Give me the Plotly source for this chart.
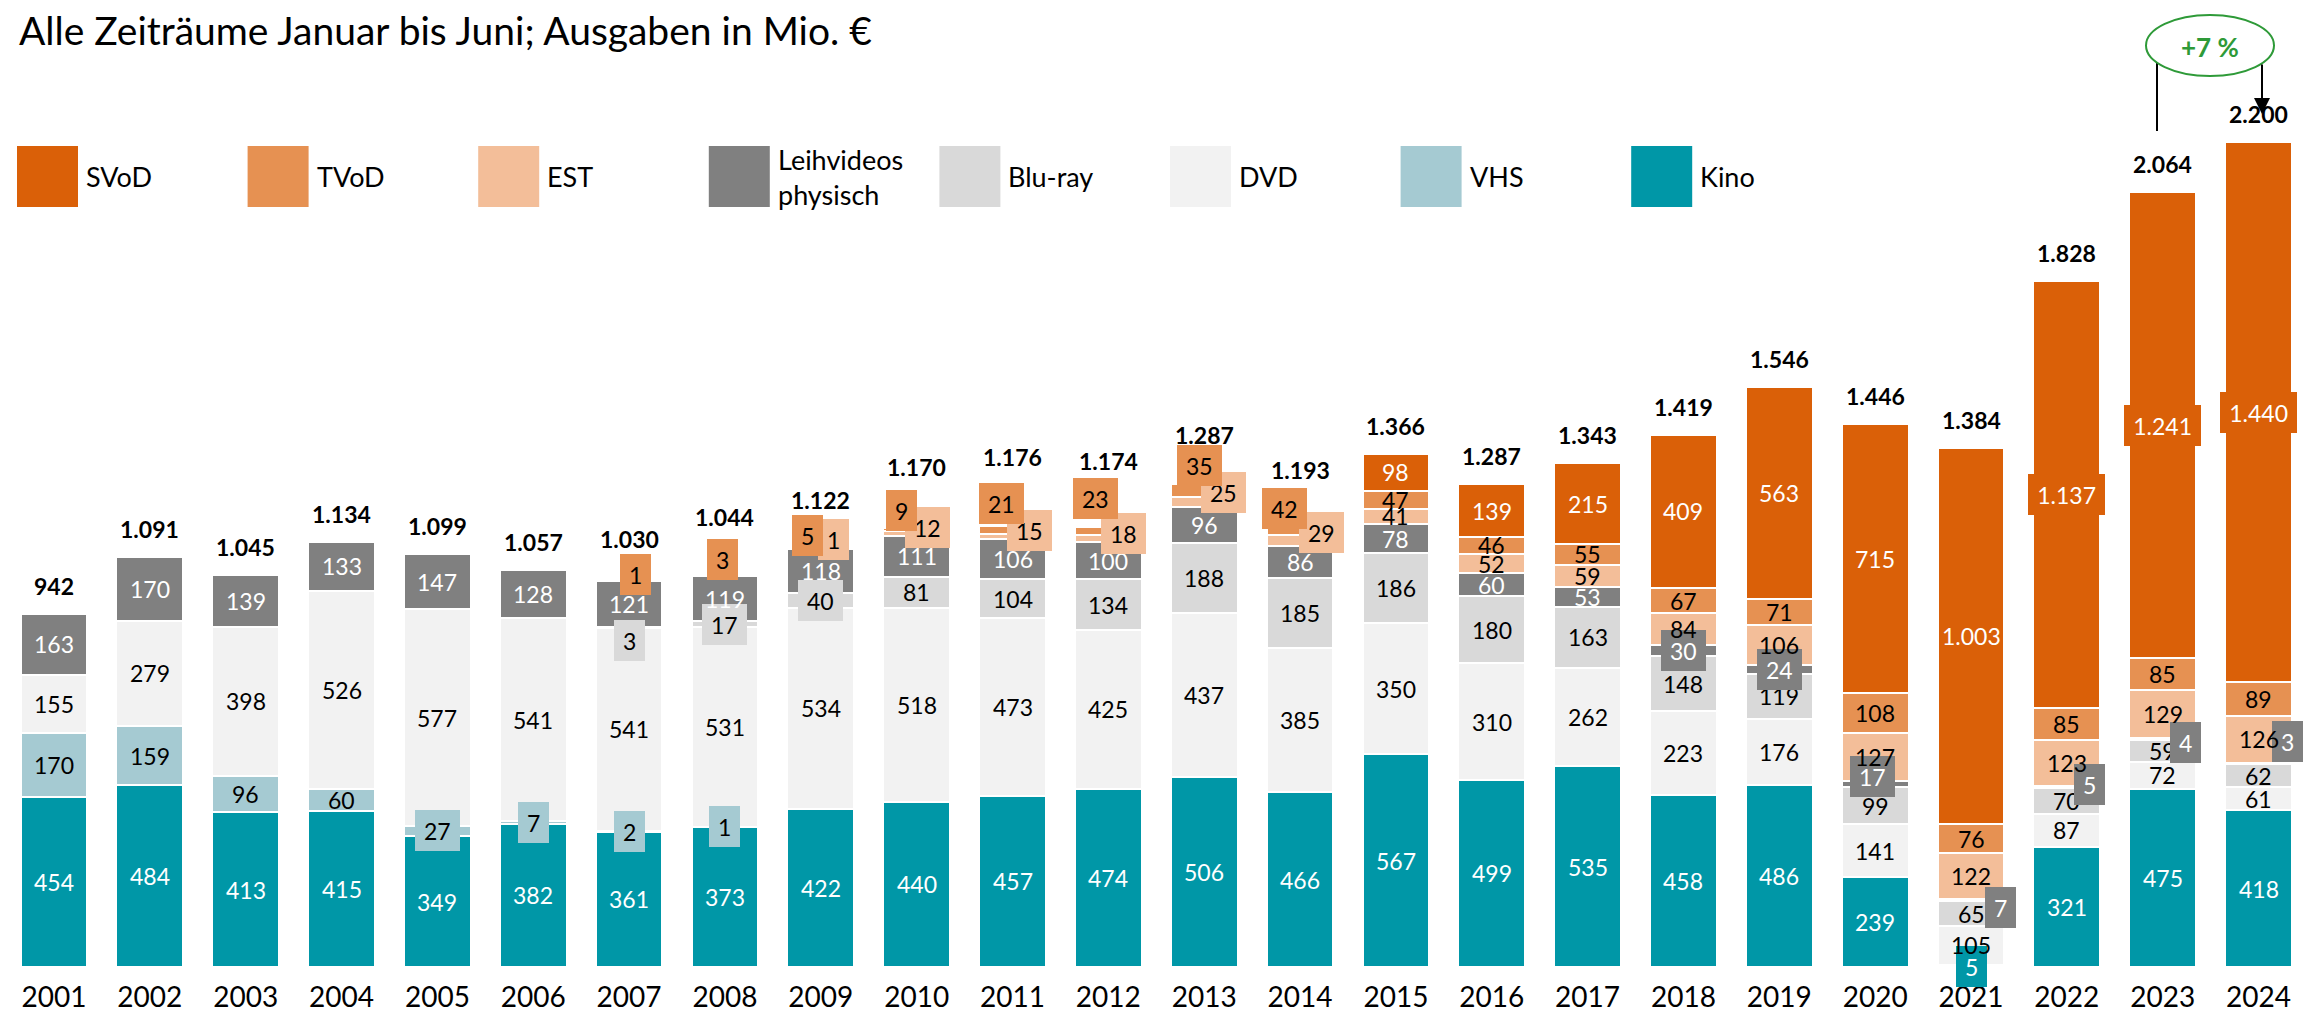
import plotly.graph_objects as go

# ---------------- data ----------------
years = [str(y) for y in range(2001, 2025)]
kino = [454, 484, 413, 415, 349, 382, 361, 373, 422, 440, 457, 474, 506, 466, 567, 499, 535, 458, 486, 239, 5, 321, 475, 418]
vhs = [170, 159, 96, 60, 27, 7, 2, 1, 0, 0, 0, 0, 0, 0, 0, 0, 0, 0, 0, 0, 0, 0, 0, 0]
dvd = [155, 279, 398, 526, 577, 541, 541, 531, 534, 518, 473, 425, 437, 385, 350, 310, 262, 223, 176, 141, 105, 87, 72, 61]
bluray = [0, 0, 0, 0, 0, 0, 3, 17, 40, 81, 104, 134, 188, 185, 186, 180, 163, 148, 119, 99, 65, 70, 59, 62]
leih = [163, 170, 139, 133, 147, 128, 121, 119, 118, 111, 106, 100, 96, 86, 78, 60, 53, 30, 24, 17, 7, 5, 4, 3]
est = [0, 0, 0, 0, 0, 0, 0, 0, 1, 12, 15, 18, 25, 29, 41, 52, 59, 84, 106, 127, 122, 123, 129, 126]
tvod = [0, 0, 0, 0, 0, 0, 1, 3, 5, 9, 21, 23, 35, 42, 47, 46, 55, 67, 71, 108, 76, 85, 85, 89]
svod = [0, 0, 0, 0, 0, 0, 0, 0, 0, 0, 0, 0, 0, 0, 98, 139, 215, 409, 563, 715, 1003, 1137, 1241, 1440]
totals = [942, 1091, 1045, 1134, 1099, 1057, 1030, 1044, 1122, 1170, 1176, 1174, 1287, 1193, 1366, 1287, 1343, 1419, 1546, 1446, 1384, 1828, 2064, 2200]

series_names = ["Kino", "VHS", "DVD", "Blu-ray", "Leihvideos physisch", "EST", "TVoD", "SVoD"]
series_values = [kino, vhs, dvd, bluray, leih, est, tvod, svod]

title_text = "Alle Zeiträume Januar bis Juni; Ausgaben in Mio. €"
growth_text = "+7 %"

# ---------------- styles ----------------
colors = {
    "Kino": "#0097A7", "VHS": "#A5CAD2", "DVD": "#F2F2F2", "Blu-ray": "#D9D9D9",
    "Leihvideos physisch": "#808080", "EST": "#F3BE99", "TVoD": "#E69152", "SVoD": "#DA6008",
}
label_colors = {
    "Kino": "white", "VHS": "black", "DVD": "black", "Blu-ray": "black",
    "Leihvideos physisch": "white", "EST": "black", "TVoD": "black", "SVoD": "white",
}
FONT = "Lato, Carlito, 'Open Sans', sans-serif"
LABEL_SIZE = 23

# label adjustments (pixel shifts dx, dy-down) and boxed labels
label_adjust = {
    ("Blu-ray", "2007"): (0, 13),
    ("Leihvideos physisch", "2020"): (-3, -8),
    ("Leihvideos physisch", "2021"): (29, 7),
    ("Leihvideos physisch", "2022"): (23, -2),
    ("Leihvideos physisch", "2023"): (23, 4),
    ("Leihvideos physisch", "2024"): (29, -22),
    ("EST", "2009"): (13, -9),
    ("EST", "2010"): (11, -6),
    ("EST", "2011"): (17, -6),
    ("EST", "2012"): (15, -5),
    ("EST", "2013"): (19, -9),
    ("EST", "2014"): (21, -8),
    ("TVoD", "2007"): (6, -7),
    ("TVoD", "2008"): (-2, -16),
    ("TVoD", "2009"): (-13, -12),
    ("TVoD", "2010"): (-15, -19),
    ("TVoD", "2011"): (-11, -26),
    ("TVoD", "2012"): (-13, -32),
    ("TVoD", "2013"): (-5, -25),
    ("TVoD", "2014"): (-16, -19),
}
boxed = {
    ("VHS", "2005"), ("VHS", "2006"), ("VHS", "2007"), ("VHS", "2008"),
    ("Blu-ray", "2007"), ("Blu-ray", "2008"), ("Blu-ray", "2009"),
    ("Leihvideos physisch", "2018"), ("Leihvideos physisch", "2019"), ("Leihvideos physisch", "2020"),
    ("Leihvideos physisch", "2021"), ("Leihvideos physisch", "2022"), ("Leihvideos physisch", "2023"),
    ("Leihvideos physisch", "2024"),
    ("EST", "2009"), ("EST", "2010"), ("EST", "2011"), ("EST", "2012"), ("EST", "2013"), ("EST", "2014"),
    ("TVoD", "2007"), ("TVoD", "2008"), ("TVoD", "2009"), ("TVoD", "2010"), ("TVoD", "2011"),
    ("TVoD", "2012"), ("TVoD", "2013"), ("TVoD", "2014"),
    ("Kino", "2021"), ("SVoD", "2022"), ("SVoD", "2023"), ("SVoD", "2024"),
}
total_offset = {"2007": 42, "2008": 58, "2009": 47, "2010": 61, "2011": 69, "2012": 66, "2013": 49, "2014": 49}
DEFAULT_TOTAL_OFFSET = 28

# ---------------- geometry ----------------
FIG_W, FIG_H = 2315, 1015
ML, MR, MT, MB = 0, 18, 50, 56
PW = FIG_W - ML - MR
PH = FIG_H - MT - MB
PX_PER_CAT = 95.85
X0 = -46.0 / PX_PER_CAT
X1 = X0 + PW / PX_PER_CAT
PX_PER_UNIT = 0.3752
YMAX = PH / PX_PER_UNIT


def pxx(x):
    return (x - ML) / PW


def pyy(y):
    return (FIG_H - MB - y) / PH


def fmt(v):
    return f"{v:,}".replace(",", ".")


def box_width(txt):
    digits = sum(c.isdigit() for c in txt)
    dots = txt.count(".")
    return digits * 0.58 * LABEL_SIZE + dots * 0.26 * LABEL_SIZE + 4


xs = list(range(len(years)))

fig = go.Figure()
for name, vals in zip(series_names, series_values):
    fig.add_trace(go.Bar(
        x=xs, y=[v if v else None for v in vals], name=name,
        marker=dict(color=colors[name], line=dict(color="white", width=2)),
        width=0.696, showlegend=False, hoverinfo="skip",
    ))

annotations = []
base = [0] * len(years)
for name, vals in zip(series_names, series_values):
    for i, v in enumerate(vals):
        if v:
            key = (name, years[i])
            dx, dy = label_adjust.get(key, (0, 0))
            txt = fmt(v)
            ann = dict(
                x=xs[i], y=base[i] + v / 2, xref="x", yref="y", text=txt, showarrow=False,
                font=dict(family=FONT, size=LABEL_SIZE, color=label_colors[name]),
                xanchor="center", yanchor="middle", xshift=dx, yshift=-dy,
            )
            if key in boxed:
                ann.update(bgcolor=colors[name], borderpad=6, borderwidth=0,
                           width=box_width(txt) + 2, height=29)
            annotations.append(ann)
        base[i] += v

for i, t in enumerate(totals):
    off = total_offset.get(years[i], DEFAULT_TOTAL_OFFSET)
    annotations.append(dict(
        x=xs[i], y=base[i], xref="x", yref="y", text=f"<b>{fmt(t)}</b>", showarrow=False,
        font=dict(family=FONT, size=LABEL_SIZE, color="black"), xanchor="center", yanchor="middle", yshift=off,
    ))

# title
annotations.append(dict(
    x=pxx(9), y=pyy(22), xref="paper", yref="paper", text=title_text, showarrow=False,
    font=dict(family=FONT, size=39, color="black"), xanchor="left", yanchor="middle",
))

# legend (drawn manually)
shapes = []
legend_order = ["SVoD", "TVoD", "EST", "Leihvideos physisch", "Blu-ray", "DVD", "VHS", "Kino"]
legend_labels = {"Leihvideos physisch": "Leihvideos<br>physisch"}
for k, name in enumerate(legend_order):
    left = 9 + 230.6 * k
    shapes.append(dict(type="rect", xref="paper", yref="paper",
                       x0=pxx(left), x1=pxx(left + 61), y0=pyy(199), y1=pyy(138),
                       fillcolor=colors[name], line=dict(width=0)))
    annotations.append(dict(
        x=pxx(left + 67), y=pyy(169), xref="paper", yref="paper",
        text=legend_labels.get(name, name), showarrow=False, align="left",
        font=dict(family=FONT, size=27, color="black"), xanchor="left", yanchor="middle",
    ))

# growth callout
green = "#2E9A38"
shapes.append(dict(type="line", xref="paper", yref="paper", x0=pxx(2149), x1=pxx(2149),
                   y0=pyy(50), y1=pyy(123), line=dict(color="black", width=2)))
shapes.append(dict(type="circle", xref="paper", yref="paper", x0=pxx(2138), x1=pxx(2266),
                   y0=pyy(68), y1=pyy(7), line=dict(color=green, width=2), fillcolor="white"))
annotations.append(dict(
    x=pxx(2254), y=pyy(106), xref="paper", yref="paper", text="", showarrow=True,
    ax=0, ay=-51, arrowhead=2, arrowsize=1.6, arrowwidth=2, arrowcolor="black",
))
annotations.append(dict(
    x=pxx(2202), y=pyy(39), xref="paper", yref="paper", text=f"<b>{growth_text}</b>", showarrow=False,
    font=dict(family=FONT, size=26, color=green), xanchor="center", yanchor="middle",
))

fig.update_layout(
    width=FIG_W, height=FIG_H,
    margin=dict(l=ML, r=MR, t=MT, b=MB, pad=0),
    barmode="stack", bargap=0.304,
    plot_bgcolor="white", paper_bgcolor="white",
    xaxis=dict(range=[X0, X1], tickvals=xs, ticktext=years, showgrid=False, zeroline=False,
               showline=False, ticks="", tickfont=dict(family=FONT, size=28, color="black"),
               ticklabelstandoff=11),
    yaxis=dict(range=[0, YMAX], visible=False, showgrid=False, zeroline=False),
    annotations=annotations, shapes=shapes,
    font=dict(family=FONT),
)

fig.write_html("out.html")
